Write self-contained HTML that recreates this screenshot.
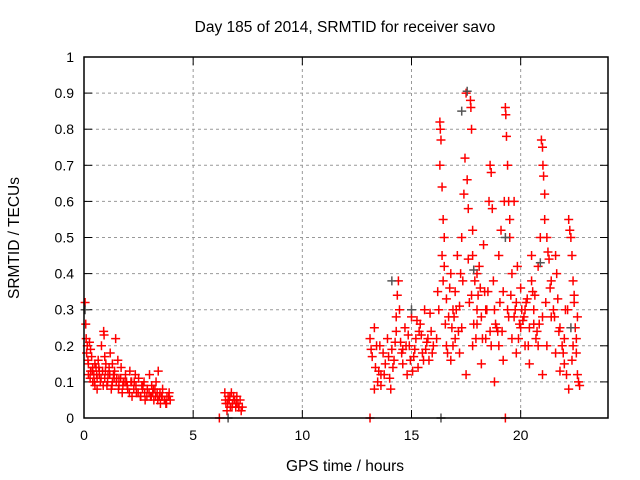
<!DOCTYPE html>
<html><head><meta charset="utf-8"><style>
body{margin:0;background:#fff}
svg{display:block;font-family:"Liberation Sans",sans-serif}
</style></head><body>
<svg id="chart" width="640" height="480">
<text x="345" y="32" font-size="15.5" text-anchor="middle">Day 185 of 2014, SRMTID for receiver savo</text>
<text x="345" y="471" font-size="15.5" text-anchor="middle">GPS time / hours</text>
<text transform="translate(19,238) rotate(-90)" font-size="15.5" text-anchor="middle">SRMTID / TECUs</text>
<g id="grid"></g><g id="ticks"></g><g id="marks"></g>
<rect x="84" y="57" width="524" height="361" fill="none" stroke="#000" stroke-width="1.5"/>
</svg>
<script>
const xTicks=[0,5,10,15,20];
const yTicks=[0,0.1,0.2,0.3,0.4,0.5,0.6,0.7,0.8,0.9,1];
const yTickLabels=["0","0.1","0.2","0.3","0.4","0.5","0.6","0.7","0.8","0.9","1"];
const redT=[0.05,0.08,0.1,0.12,0.15,0.2,0.25,0.3,0.35,0.4,0.45,0.5,0.55,0.6,0.65,0.7,0.75,0.8,0.85,0.9,0.95,1.0,1.05,1.1,1.2,1.25,1.3,1.4,1.45,1.5,1.6,1.7,1.75,1.8,1.9,2.0,2.1,2.2,2.3,2.4,2.5,2.6,2.7,2.8,2.9,3.0,3.05,3.1,3.2,3.3,3.35,3.4,3.5,3.6,3.7,3.8,3.9,3.95,0.3,0.6,1.15,1.55,2.15,2.65,3.25,3.45,3.75,0.2,0.4,
0.18,0.28,0.38,0.48,0.58,0.68,0.78,0.88,0.98,1.08,1.18,1.28,1.38,1.48,1.58,1.68,1.78,1.88,1.98,2.08,2.18,2.28,2.38,2.48,2.58,2.68,2.78,2.88,2.98,3.08,3.18,3.28,3.38,3.48,3.58,3.68,3.78,3.88,0.5,0.7,0.95,1.3,1.6,1.95,2.35,2.75,3.15,3.55,0.92,1.35,
6.2,6.45,6.5,6.55,6.6,6.65,6.7,6.75,6.8,6.85,6.9,6.95,7.0,7.05,7.1,7.15,7.2,7.25,6.48,6.58,6.68,6.78,6.88,6.98,7.08,
13.1,13.1,13.2,13.3,13.4,13.5,13.6,13.7,13.8,13.9,14.0,14.1,14.2,14.3,14.35,14.4,14.45,14.5,14.6,14.7,14.8,14.9,15.0,15.1,15.2,15.3,15.4,15.5,15.6,15.7,15.8,15.9,16.0,13.3,13.6,14.05,14.6,15.05,15.45,15.85,
13.15,13.35,13.55,13.75,13.95,14.15,14.25,14.55,14.75,14.95,15.15,15.35,15.55,15.75,15.95,14.3,14.85,15.25,15.65,13.45,
16.2,16.25,16.3,16.32,16.35,16.3,16.4,16.45,16.5,16.4,16.5,16.45,16.6,16.7,16.8,16.9,17.0,17.1,17.2,17.3,17.3,17.4,17.45,17.5,17.55,17.6,17.6,17.7,17.72,17.75,17.8,17.9,18.0,18.1,18.2,18.3,18.4,18.5,18.55,18.6,18.65,18.7,18.8,18.9,19.0,19.1,19.2,19.25,19.3,19.32,19.35,19.4,19.45,19.5,19.6,19.7,19.8,19.9,20.0,20.1,20.2,20.3,20.4,20.5,20.6,20.7,20.8,20.9,20.95,21.0,21.02,21.05,21.1,21.1,21.2,21.3,21.4,21.5,21.6,21.7,21.8,21.9,22.0,22.1,22.2,22.25,22.3,22.35,22.4,22.45,22.5,22.55,22.6,22.65,22.7,19.3,
16.6,16.8,17.0,17.2,17.5,17.8,18.0,18.2,18.4,18.6,18.8,19.0,19.2,19.4,19.6,19.8,20.0,20.2,20.4,20.6,20.8,21.0,21.2,21.4,21.6,21.8,22.0,22.2,22.4,22.6,21.0,20.5,18.0,19.7,19.5,17.8,16.9,
16.15,16.55,16.75,16.95,17.15,17.35,17.65,17.85,18.05,18.25,18.45,18.65,18.85,19.05,19.15,19.55,19.75,19.95,20.15,20.35,20.55,20.75,21.15,21.35,21.55,21.75,21.95,22.15,22.35,22.55,16.65,17.05,17.25,17.95,18.35,18.75,19.45,19.85,20.25,20.65,21.25,21.65,22.05,22.45,16.85,17.75,18.15,18.95,20.05,20.85];
const redV=[0.32,0.26,0.22,0.18,0.2,0.15,0.21,0.13,0.17,0.1,0.12,0.09,0.14,0.11,0.16,0.12,0.1,0.2,0.13,0.24,0.11,0.15,0.09,0.12,0.18,0.08,0.1,0.13,0.22,0.11,0.09,0.14,0.07,0.1,0.12,0.08,0.13,0.06,0.1,0.07,0.11,0.06,0.09,0.05,0.08,0.12,0.06,0.09,0.05,0.1,0.07,0.13,0.04,0.08,0.05,0.06,0.07,0.05,0.19,0.08,0.14,0.16,0.1,0.09,0.08,0.06,0.04,0.12,0.14,
0.16,0.11,0.13,0.1,0.12,0.14,0.11,0.09,0.13,0.1,0.12,0.09,0.11,0.1,0.08,0.11,0.09,0.1,0.09,0.07,0.1,0.08,0.09,0.07,0.06,0.08,0.07,0.06,0.07,0.06,0.08,0.06,0.05,0.07,0.06,0.05,0.04,0.06,0.15,0.13,0.17,0.15,0.11,0.1,0.12,0.1,0.07,0.06,0.23,0.12,
0,0.07,0.04,0.02,0.06,0.05,0.03,0.07,0.04,0.06,0.05,0.03,0.06,0.04,0.03,0.05,0.02,0.03,0.05,0.04,0.06,0.03,0.05,0.04,0.03,
0,0.22,0.17,0.25,0.2,0.13,0.09,0.18,0.15,0.22,0.11,0.19,0.16,0.24,0.34,0.38,0.3,0.21,0.15,0.25,0.12,0.2,0.28,0.17,0.22,0.14,0.26,0.18,0.3,0.21,0.16,0.24,0.2,0.08,0.12,0.08,0.19,0.13,0.23,0.29,
0.19,0.14,0.2,0.12,0.17,0.14,0.21,0.18,0.2,0.16,0.19,0.24,0.16,0.22,0.18,0.28,0.23,0.27,0.19,0.1,
0.35,0.3,0.82,0.8,0.77,0.7,0.64,0.55,0.5,0.45,0.42,0.38,0.33,0.28,0.4,0.2,0.35,0.45,0.31,0.5,0.25,0.62,0.72,0.9,0.66,0.58,0.44,0.88,0.86,0.8,0.52,0.38,0.3,0.42,0.28,0.48,0.22,0.35,0.6,0.7,0.68,0.58,0.3,0.25,0.45,0.52,0.35,0.6,0.86,0.84,0.78,0.7,0.6,0.55,0.4,0.28,0.32,0.22,0.36,0.27,0.2,0.33,0.25,0.38,0.3,0.22,0.42,0.5,0.77,0.75,0.7,0.67,0.62,0.55,0.5,0.44,0.38,0.3,0.45,0.33,0.25,0.2,0.15,0.12,0.55,0.52,0.5,0.45,0.38,0.32,0.25,0.18,0.12,0.1,0.09,0,
0.2,0.16,0.22,0.18,0.12,0.2,0.26,0.15,0.3,0.24,0.1,0.2,0.16,0.3,0.22,0.18,0.25,0.3,0.15,0.26,0.2,0.12,0.2,0.28,0.18,0.13,0.22,0.08,0.2,0.28,0.28,0.45,0.4,0.6,0.5,0.45,0.3,
0.22,0.26,0.36,0.28,0.24,0.38,0.32,0.26,0.34,0.22,0.3,0.2,0.26,0.32,0.24,0.34,0.3,0.26,0.28,0.2,0.35,0.24,0.32,0.36,0.28,0.24,0.18,0.3,0.16,0.22,0.18,0.3,0.4,0.22,0.35,0.38,0.28,0.42,0.32,0.34,0.46,0.4,0.3,0.34,0.25,0.34,0.36,0.24,0.3,0.26];
const grayT=[0.05,6.6,16.35,17.55,17.3,17.85,19.3,20.9,22.3,14.1,15.0];
const grayV=[0.3,0,0,0.905,0.85,0.41,0.5,0.43,0.25,0.38,0.3];
const NS='http://www.w3.org/2000/svg';
const X0=84,X1=608,Y0=418,Y1=57;
const xs=t=>X0+(t/24)*(X1-X0);
const ys=v=>Y0-v*(Y0-Y1);
function mk(tag,attrs,parent){const e=document.createElementNS(NS,tag);for(const k in attrs)e.setAttribute(k,attrs[k]);parent.appendChild(e);return e;}
const grid=document.getElementById('grid'),ticks=document.getElementById('ticks'),marks=document.getElementById('marks');
yTicks.forEach((v,i)=>{
  const y=ys(v);
  if(v>0&&v<1){const g=mk('line',{x1:X0,x2:X1,y1:y,y2:y,stroke:'#999','stroke-dasharray':'3,3'},grid);
  
  }
  mk('line',{x1:X0,x2:X0+8,y1:y,y2:y,stroke:'#000'},ticks);
  mk('line',{x1:X1-8,x2:X1,y1:y,y2:y,stroke:'#000'},ticks);
  const t=mk('text',{x:X0-10,y:y+5,'font-size':14,'text-anchor':'end'},ticks);
  t.textContent=yTickLabels[i];
  
  
});
xTicks.forEach(v=>{
  const x=xs(v);
  if(v>0){const g=mk('line',{x1:x,x2:x,y1:Y1,y2:Y0,stroke:'#999','stroke-dasharray':'3,3'},grid);
  
  }
  mk('line',{x1:x,x2:x,y1:Y0,y2:Y0-8,stroke:'#000'},ticks);
  mk('line',{x1:x,x2:x,y1:Y1,y2:Y1+8,stroke:'#000'},ticks);
  const t=mk('text',{x:x,y:Y0+22,'font-size':14,'text-anchor':'middle'},ticks);
  t.textContent=String(v);
  
  
});
function plus(t,v,color,name){
  const x=xs(t),y=ys(v);
  const p=mk('path',{d:`M${x-4.5},${y}H${x+4.5}M${x},${y-4.5}V${y+4.5}`,stroke:color,'stroke-width':1.5,fill:'none'},marks);
  
  
}
redT.forEach((t,i)=>plus(t,redV[i],'#ff0000','red-point'));
grayT.forEach((t,i)=>plus(t,grayV[i],'#555555','gray-point'));
</script>
</body></html>
